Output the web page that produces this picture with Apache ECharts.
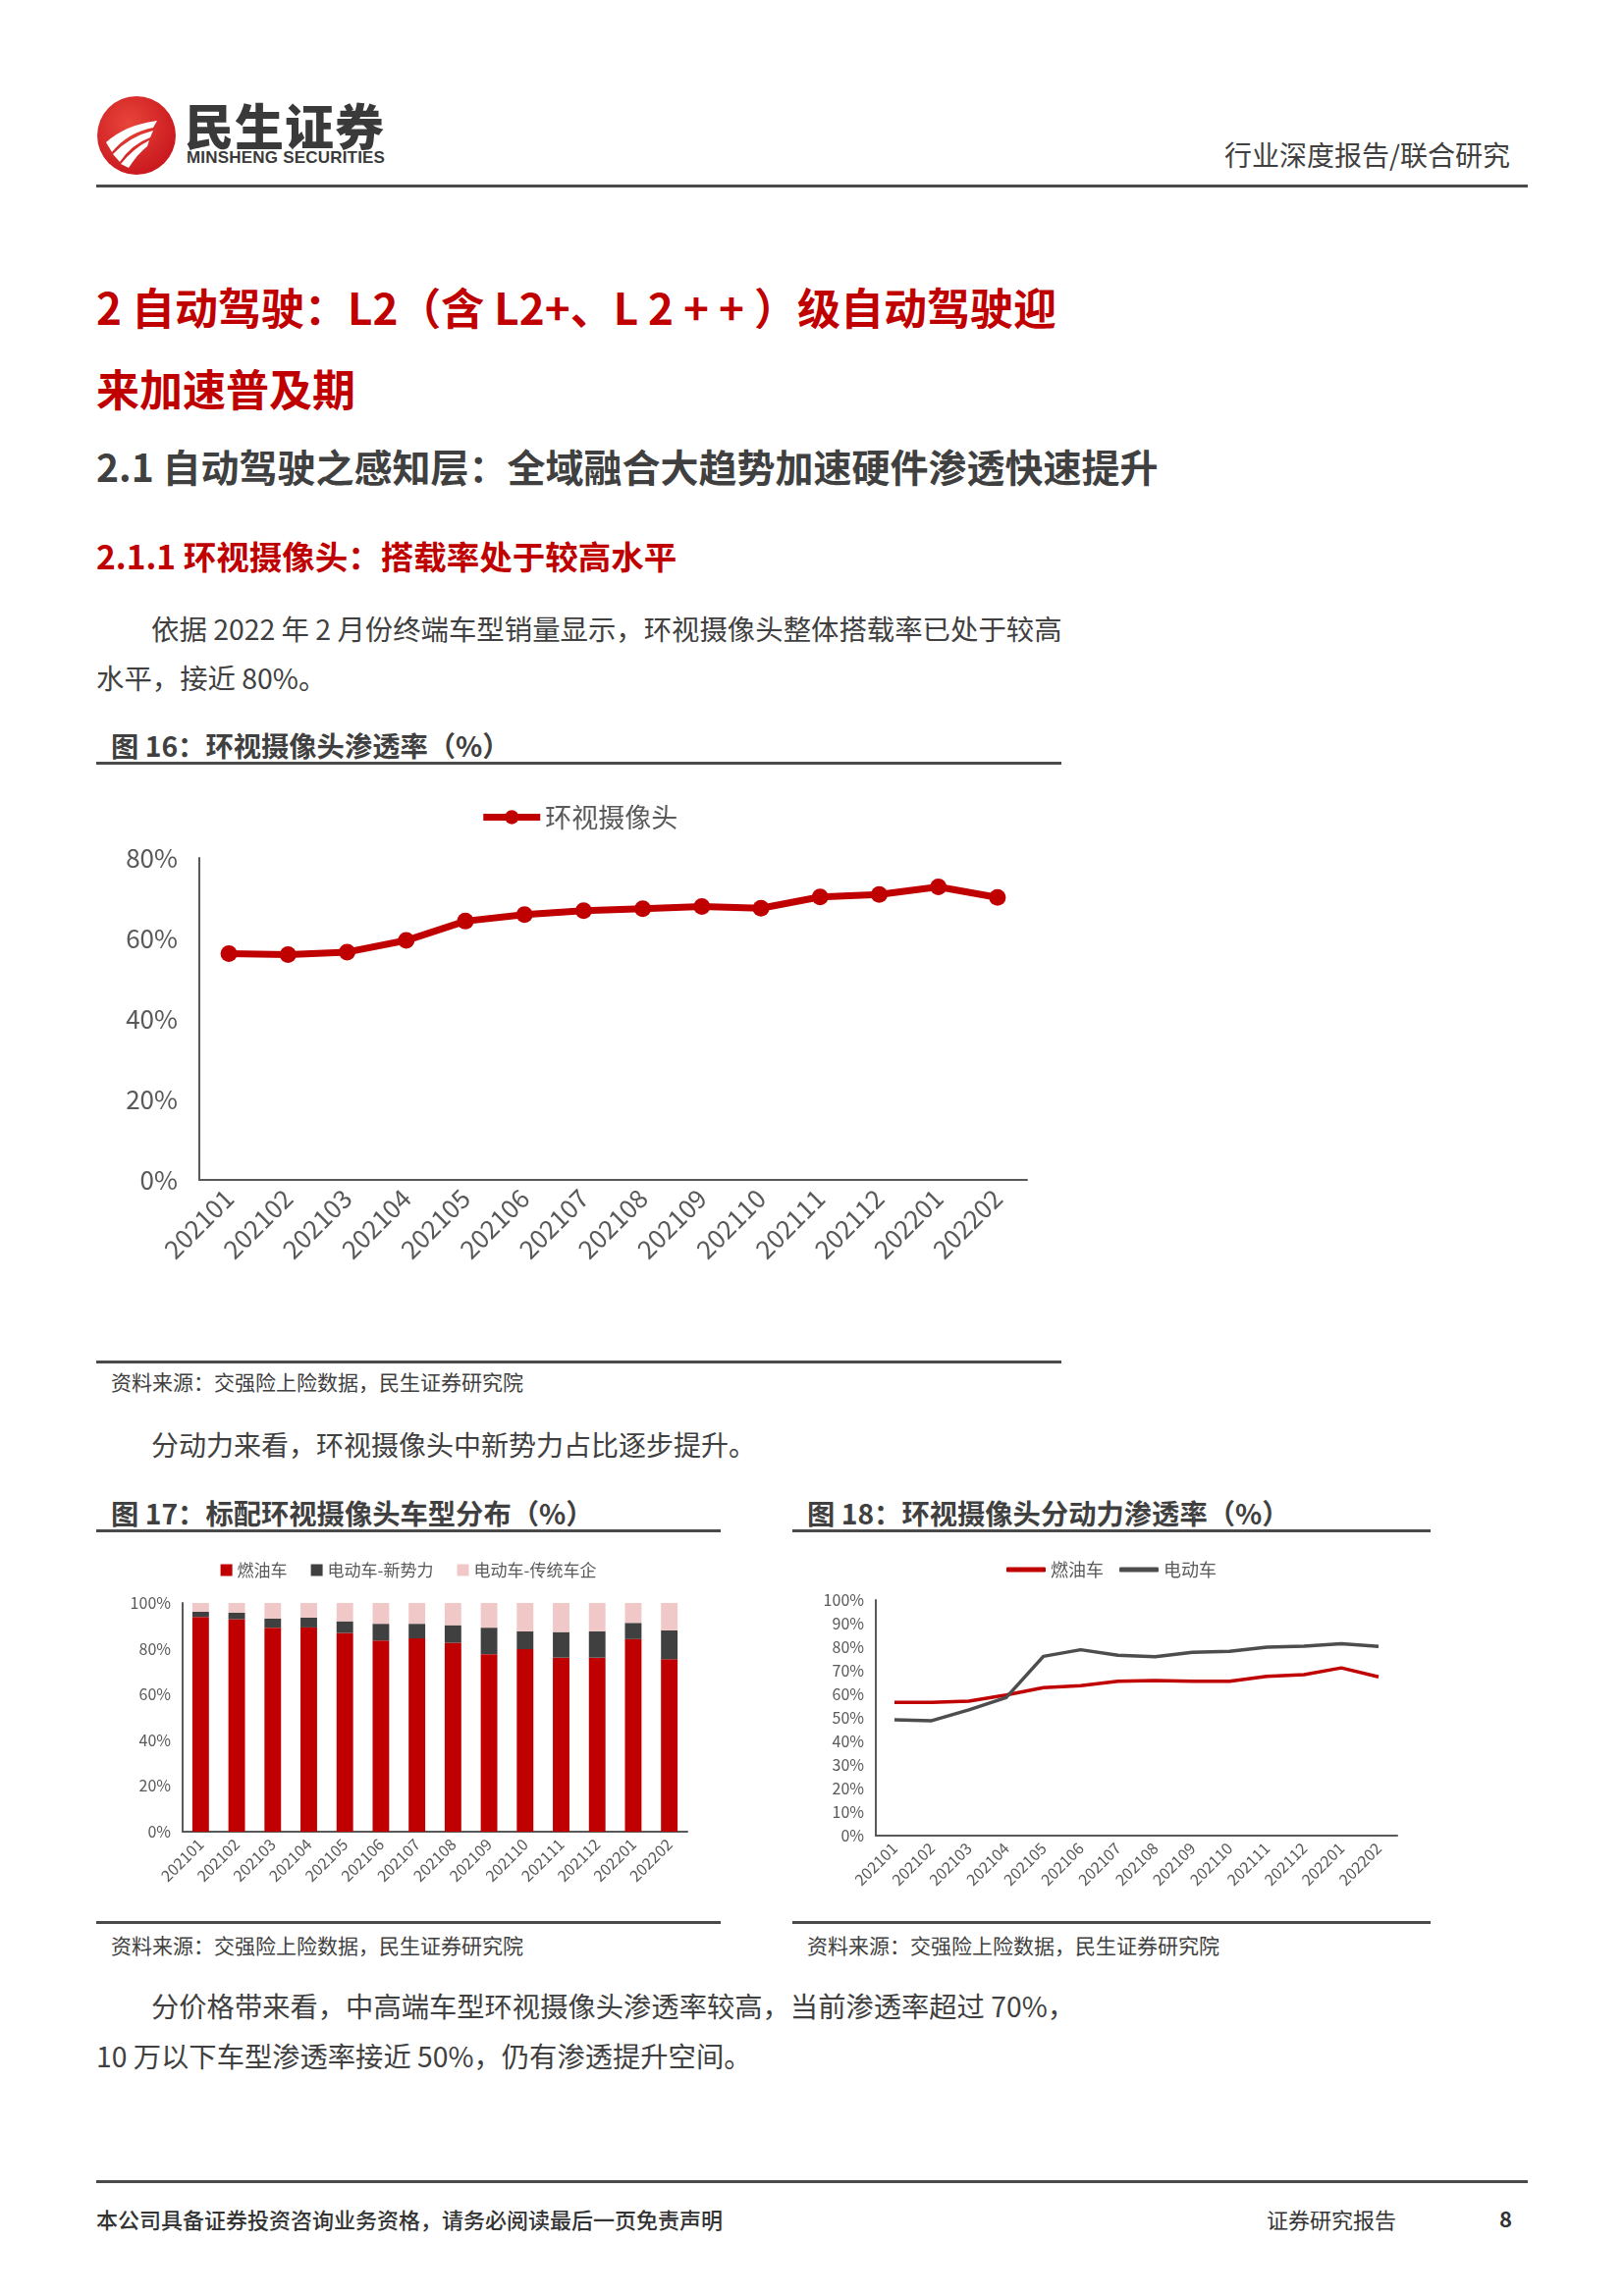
<!DOCTYPE html>
<html>
<head>
<meta charset="utf-8">
<script src="https://cdn.jsdelivr.net/npm/echarts@6/dist/echarts.min.js"></script>
<style>
  html, body { margin:0; padding:0; background:#fff; }
  body { width:1654px; height:2339px; position:relative; overflow:hidden;
         font-family:"Noto Sans CJK SC","Noto Sans",sans-serif; color:#404040; }
  .t { position:absolute; white-space:nowrap; }
  .rule { position:absolute; background:#4a4a4a; }
  .chart { position:absolute; }
</style>
</head>
<body>
<script>
// ===== Data =====
const categories = ['202101','202102','202103','202104','202105','202106','202107','202108','202109','202110','202111','202112','202201','202202'];
// 图16 环视摄像头渗透率 (%)
const surroundRate = [56.2, 56.0, 56.6, 59.5, 64.3, 65.9, 66.9, 67.4, 67.9, 67.5, 70.3, 70.9, 72.8, 70.2];
// 图17 标配环视摄像头车型分布 (%)
const fuelShare    = [93.9, 92.9, 89.2, 89.3, 86.9, 83.6, 84.5, 82.6, 77.6, 79.8, 76.1, 76.1, 84.2, 75.4];
const evNewShare   = [2.3, 2.8, 4.0, 4.3, 5.1, 7.3, 6.4, 7.7, 11.6, 7.8, 11.2, 11.5, 7.1, 12.6];
const evTradShare  = [3.8, 4.3, 6.8, 6.4, 8.0, 9.1, 9.1, 9.7, 10.8, 12.4, 12.7, 12.4, 8.7, 12.0];
// 图18 环视摄像头分动力渗透率 (%)
const fuelRate     = [56.6, 56.6, 57.1, 59.7, 62.8, 63.6, 65.5, 65.8, 65.5, 65.5, 67.6, 68.3, 71.2, 67.4];
const evRate       = [49.2, 48.8, 53.4, 58.6, 76.1, 78.9, 76.6, 75.9, 77.8, 78.2, 80.0, 80.4, 81.5, 80.3];
// Tick labels
const pctTicks16 = [0, 20, 40, 60, 80];
const pctTicks17 = [0, 20, 40, 60, 80, 100];
const pctTicks18 = [0, 10, 20, 30, 40, 50, 60, 70, 80, 90, 100];
</script>

<!-- Header -->
<svg class="t" style="left:98px;top:97px" width="82" height="82" viewBox="0 0 82 82">
  <defs>
    <radialGradient id="g" cx="40%" cy="35%" r="70%">
      <stop offset="0%" stop-color="#e8453a"/>
      <stop offset="100%" stop-color="#c8161d"/>
    </radialGradient>
  </defs>
  <circle cx="41" cy="41" r="40" fill="url(#g)"/>
  <path d="M10 48 Q30 30 62 26 L58 33 Q32 38 16 58 Z" fill="#fff"/>
  <path d="M17 60 Q34 42 58 36 L55 43 Q36 50 24 68 Z" fill="#fff"/>
  <path d="M25 70 Q38 54 54 46 L52 52 Q42 60 33 74 Z" fill="#fff"/>
</svg>
<div class="t" style="left:188px;top:98px;font-size:50px;line-height:56px;font-weight:900;color:#3a3a3a;letter-spacing:1px">民生证券</div>
<div class="t" style="left:190px;top:150px;font-size:17px;line-height:22px;font-weight:700;color:#3a3a3a;font-family:'Liberation Sans Narrow','Liberation Sans',sans-serif;letter-spacing:0.2px">MINSHENG SECURITIES</div>
<div class="t" style="right:116px;top:140px;font-size:28px;line-height:34px;color:#404040">行业深度报告/联合研究</div>
<div class="rule" style="left:98px;top:188px;width:1458px;height:3px"></div>

<!-- Headings -->
<div class="t" style="left:98px;top:286px;font-size:44px;line-height:52px;font-weight:700;color:#c00000">2 自动驾驶：L2（含 L2+、L 2 + + ）级自动驾驶迎</div>
<div class="t" style="left:98px;top:369px;font-size:44px;line-height:52px;font-weight:700;color:#c00000">来加速普及期</div>
<div class="t" style="left:98px;top:452px;font-size:39px;line-height:44px;font-weight:700;color:#404040">2.1 自动驾驶之感知层：全域融合大趋势加速硬件渗透快速提升</div>
<div class="t" style="left:98px;top:546px;font-size:33.5px;line-height:40px;font-weight:700;color:#c00000">2.1.1 环视摄像头：搭载率处于较高水平</div>

<div class="t" style="left:154px;top:622px;font-size:28.4px;line-height:36px;color:#404040">依据 2022 年 2 月份终端车型销量显示，环视摄像头整体搭载率已处于较高</div>
<div class="t" style="left:98px;top:672px;font-size:28.4px;line-height:36px;color:#404040">水平，接近 80%。</div>

<!-- Figure 16 -->
<div class="t" style="left:113px;top:743px;font-size:28.3px;line-height:32px;font-weight:700;color:#404040">图 16：环视摄像头渗透率（%）</div>
<div class="rule" style="left:98px;top:776px;width:983px;height:3px"></div>
<div id="c16" class="chart" style="left:98px;top:790px;width:983px;height:585px"></div>
<div class="rule" style="left:98px;top:1386px;width:983px;height:3px"></div>
<div class="t" style="left:113px;top:1394px;font-size:21px;line-height:26px;color:#404040">资料来源：交强险上险数据，民生证券研究院</div>

<div class="t" style="left:154px;top:1453px;font-size:28px;line-height:36px;color:#404040">分动力来看，环视摄像头中新势力占比逐步提升。</div>

<!-- Figure 17 -->
<div class="t" style="left:113px;top:1525px;font-size:28.3px;line-height:32px;font-weight:700;color:#404040">图 17：标配环视摄像头车型分布（%）</div>
<div class="rule" style="left:98px;top:1558px;width:636px;height:3px"></div>
<div id="c17" class="chart" style="left:98px;top:1565px;width:636px;height:385px"></div>
<div class="rule" style="left:98px;top:1957px;width:636px;height:3px"></div>
<div class="t" style="left:113px;top:1968px;font-size:21px;line-height:26px;color:#404040">资料来源：交强险上险数据，民生证券研究院</div>

<!-- Figure 18 -->
<div class="t" style="left:822px;top:1525px;font-size:28.3px;line-height:32px;font-weight:700;color:#404040">图 18：环视摄像头分动力渗透率（%）</div>
<div class="rule" style="left:807px;top:1558px;width:650px;height:3px"></div>
<div id="c18" class="chart" style="left:807px;top:1565px;width:650px;height:385px"></div>
<div class="rule" style="left:807px;top:1957px;width:650px;height:3px"></div>
<div class="t" style="left:822px;top:1968px;font-size:21px;line-height:26px;color:#404040">资料来源：交强险上险数据，民生证券研究院</div>

<div class="t" style="left:154px;top:2025px;font-size:28.3px;line-height:36px;color:#404040">分价格带来看，中高端车型环视摄像头渗透率较高，当前渗透率超过 70%，</div>
<div class="t" style="left:98px;top:2076px;font-size:28.3px;line-height:36px;color:#404040">10 万以下车型渗透率接近 50%，仍有渗透提升空间。</div>

<!-- Footer -->
<div class="rule" style="left:98px;top:2221px;width:1458px;height:3px"></div>
<div class="t" style="left:98px;top:2247px;font-size:22px;line-height:26px;font-weight:500;color:#333">本公司具备证券投资咨询业务资格，请务必阅读最后一页免责声明</div>
<div class="t" style="left:1290px;top:2247px;font-size:22px;line-height:26px;color:#333">证券研究报告</div>
<div class="t" style="left:1527px;top:2246px;font-size:22px;line-height:26px;font-weight:700;color:#333">8</div>

<script>
const FF = '"Noto Sans CJK SC","Noto Sans",sans-serif';
const AX = '#595959';

function catAxis(fs, margin) {
  return {
    type: 'category', data: categories, boundaryGap: true,
    axisTick: { show: false },
    axisLine: { lineStyle: { color: AX, width: 2 } },
    axisLabel: { rotate: 45, interval: 0, fontSize: fs, color: AX, fontFamily: FF, margin: margin }
  };
}
function valAxis(ticks, fs, margin) {
  return {
    type: 'value', min: ticks[0], max: ticks[ticks.length - 1], interval: ticks[1] - ticks[0],
    splitLine: { show: false }, axisTick: { show: false },
    axisLine: { show: true, lineStyle: { color: AX, width: 2 } },
    axisLabel: { formatter: '{value}%', fontSize: fs, color: AX, fontFamily: FF, margin: margin }
  };
}

// Chart 16
const c16 = echarts.init(document.getElementById('c16'));
c16.setOption({
  animation: false,
  legend: { top: 24, left: 'center', itemWidth: 58, itemHeight: 18,
            lineStyle: { width: 7 },
            textStyle: { fontSize: 27, color: AX, fontFamily: FF } },
  grid: { left: 105, right: 35, top: 84, bottom: 173 },
  xAxis: catAxis(26, 14),
  yAxis: valAxis(pctTicks16, 26, 22),
  series: [{
    name: '环视摄像头', type: 'line', data: surroundRate,
    symbol: 'circle', symbolSize: 17, showSymbol: true,
    lineStyle: { color: '#c00000', width: 7 },
    itemStyle: { color: '#c00000' }
  }]
});

// Chart 17
const c17 = echarts.init(document.getElementById('c17'));
c17.setOption({
  animation: false,
  legend: { top: 21, left: 'center', icon: 'rect', itemWidth: 12, itemHeight: 12, itemGap: 24,
            textStyle: { fontSize: 17, color: AX, fontFamily: FF } },
  grid: { left: 88, right: 34, top: 68, bottom: 84 },
  xAxis: catAxis(16, 10),
  yAxis: valAxis(pctTicks17, 16, 12),
  series: [
    { name: '燃油车', type: 'bar', stack: 's', data: fuelShare, barWidth: '46%', itemStyle: { color: '#c00000' } },
    { name: '电动车-新势力', type: 'bar', stack: 's', data: evNewShare, barWidth: '46%', itemStyle: { color: '#404040' } },
    { name: '电动车-传统车企', type: 'bar', stack: 's', data: evTradShare, barWidth: '46%', itemStyle: { color: '#f0c8c8' } }
  ]
});

// Chart 18
const c18 = echarts.init(document.getElementById('c18'));
c18.setOption({
  animation: false,
  legend: { top: 20, left: 'center', icon: 'roundRect', itemWidth: 40, itemHeight: 5, itemGap: 16,
            textStyle: { fontSize: 18, color: AX, fontFamily: FF } },
  grid: { left: 85, right: 34, top: 65, bottom: 80 },
  xAxis: catAxis(16, 10),
  yAxis: valAxis(pctTicks18, 16, 12),
  series: [
    { name: '燃油车', type: 'line', data: fuelRate, symbol: 'none', lineStyle: { color: '#c00000', width: 3.5 }, itemStyle: { color: '#c00000' } },
    { name: '电动车', type: 'line', data: evRate, symbol: 'none', lineStyle: { color: '#4d4d4d', width: 3.5 }, itemStyle: { color: '#4d4d4d' } }
  ]
});
</script>
</body>
</html>
